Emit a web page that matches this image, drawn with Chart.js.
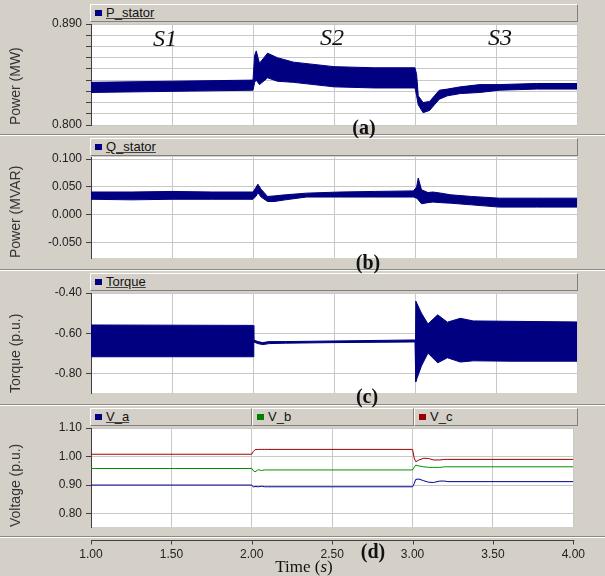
<!DOCTYPE html>
<html lang="en">
<head>
  <meta charset="UTF-8">
  <title>Stator power, torque and voltage</title>
  <script src="https://cdn.jsdelivr.net/npm/chart.js"></script>
  <style>
    body {
      margin: 0;
      background: #d4d0c8;
      font-family: "Liberation Sans", Arial, sans-serif;
    }
    #wrap {
      position: relative;
      width: 605px;
      height: 576px;
      overflow: hidden;
    }
    canvas {
      position: absolute;
      left: 0;
      top: 0;
    }
    .sep {
      position: absolute;
      left: 0;
      width: 605px;
      height: 1px;
      background: #8c8a85;
      border-bottom: 1px solid #fff;
    }
    .hdr {
      position: absolute;
      height: 18px;
      box-sizing: border-box;
      border-top: 1px solid #fff;
      border-left: 1px solid #fff;
      border-right: 1px solid #808080;
      border-bottom: 1px solid #808080;
      font-size: 13px;
      line-height: 16px;
      color: #111;
      padding-left: 4px;
      white-space: nowrap;
    }
    .hdr .sw {
      display: inline-block;
      width: 7px;
      height: 6px;
      margin-right: 4px;
      vertical-align: 1px;
    }
    .hdr u { text-decoration-color: #444; }
    .note {
      position: absolute;
      transform: translate(-50%, -50%);
      line-height: 1;
      color: #111;
      font-family: "Liberation Serif", "Times New Roman", serif;
      white-space: nowrap;
      z-index: 5;
    }
    .stage { font-size: 24px; font-style: italic; }
    .tag { font-size: 20px; font-weight: bold; }
  </style>
</head>
<body>
  <div id="wrap">
    <div class="sep" style="top:134px"></div>
    <div class="sep" style="top:269px"></div>
    <div class="sep" style="top:404px"></div>
    <div class="sep" style="top:536px"></div>

    <div class="hdr" style="left:90px; top:4px; width:488px"><span class="sw" style="background:#000080"></span><u>P_stator</u></div>
    <div class="hdr" style="left:90px; top:138px; width:488px"><span class="sw" style="background:#000080"></span><u>Q_stator</u></div>
    <div class="hdr" style="left:90px; top:273px; width:488px"><span class="sw" style="background:#000080"></span><u>Torque</u></div>
    <div class="hdr" style="left:90px; top:408px; width:162px"><span class="sw" style="background:#000080"></span><u>V_a</u></div>
    <div class="hdr" style="left:252px; top:408px; width:162px"><span class="sw" style="background:#008000"></span>V_b</div>
    <div class="hdr" style="left:414px; top:408px; width:164px"><span class="sw" style="background:#990000"></span>V_c</div>

    <canvas id="cP" width="605" height="576"></canvas>
    <canvas id="cQ" width="605" height="576"></canvas>
    <canvas id="cT" width="605" height="576"></canvas>
    <canvas id="cV" width="605" height="576"></canvas>

    <div class="note stage" style="left:165px; top:38px">S1</div>
    <div class="note stage" style="left:332px; top:37px">S2</div>
    <div class="note stage" style="left:500px; top:37px">S3</div>
    <div class="note tag" style="left:364px; top:127px">(a)</div>
    <div class="note tag" style="left:368px; top:262px">(b)</div>
    <div class="note tag" style="left:367px; top:396px">(c)</div>
    <div class="note tag" style="left:373px; top:551px">(d)</div>
    <div class="note" style="left:304px; top:566px; font-size:17px">Time (<i>s</i>)</div>
  </div>

  <script>
    // P_stator (MW): upper / lower edge of the noisy band
    const tP   = [1.00, 1.50, 2.00, 2.01, 2.02, 2.04, 2.09, 2.15, 2.25, 2.50, 2.75, 3.00, 3.01, 3.02, 3.05, 3.09, 3.12, 3.15, 3.20, 3.28, 3.40, 3.52, 3.75, 4.00];
    const pHi  = [0.838, 0.839, 0.840, 0.862, 0.866, 0.855, 0.864, 0.860, 0.856, 0.852, 0.851, 0.851, 0.845, 0.826, 0.820, 0.821, 0.826, 0.831, 0.832, 0.834, 0.836, 0.836, 0.837, 0.837];
    const pLo  = [0.829, 0.830, 0.831, 0.838, 0.840, 0.836, 0.842, 0.839, 0.838, 0.834, 0.833, 0.833, 0.826, 0.818, 0.811, 0.813, 0.818, 0.823, 0.826, 0.828, 0.829, 0.831, 0.832, 0.832];

    // Q_stator (MVAR)
    const tQ   = [1.00, 1.25, 1.50, 1.75, 2.00, 2.02, 2.03, 2.05, 2.09, 2.13, 2.20, 2.33, 2.54, 2.75, 2.99, 3.01, 3.02, 3.04, 3.08, 3.11, 3.16, 3.22, 3.35, 3.52, 3.75, 4.00];
    const qHi  = [0.041, 0.041, 0.042, 0.041, 0.041, 0.050, 0.055, 0.046, 0.033, 0.034, 0.036, 0.039, 0.041, 0.042, 0.043, 0.050, 0.066, 0.045, 0.040, 0.041, 0.039, 0.036, 0.033, 0.030, 0.030, 0.030];
    const qLo  = [0.028, 0.027, 0.028, 0.028, 0.028, 0.034, 0.040, 0.032, 0.024, 0.024, 0.027, 0.032, 0.032, 0.032, 0.032, 0.030, 0.027, 0.020, 0.022, 0.023, 0.022, 0.021, 0.018, 0.014, 0.014, 0.014];

    // Torque (p.u.)
    const tT   = [1.00, 2.00, 2.005, 2.03, 2.06, 2.10, 2.20, 2.50, 2.99, 3.00, 3.005, 3.04, 3.08, 3.14, 3.20, 3.28, 3.36, 3.60, 4.00];
    const tqHi = [-0.558, -0.560, -0.632, -0.640, -0.645, -0.640, -0.640, -0.637, -0.632, -0.632, -0.440, -0.500, -0.553, -0.508, -0.544, -0.525, -0.538, -0.540, -0.543];
    const tqLo = [-0.715, -0.715, -0.642, -0.650, -0.655, -0.650, -0.648, -0.645, -0.642, -0.642, -0.838, -0.760, -0.697, -0.745, -0.720, -0.741, -0.735, -0.737, -0.737];

    // Phase voltages (p.u.)
    const tV = [1.00, 2.00, 2.01, 2.02, 2.04, 2.06, 2.08, 2.10, 3.00, 3.01, 3.02, 3.04, 3.07, 3.10, 3.13, 3.17, 3.20, 3.22, 4.00];
    const vA = [0.900, 0.900, 0.893, 0.895, 0.894, 0.896, 0.894, 0.894, 0.894, 0.905, 0.920, 0.921, 0.915, 0.910, 0.909, 0.914, 0.914, 0.912, 0.912];
    const vB = [0.958, 0.958, 0.950, 0.946, 0.954, 0.951, 0.953, 0.953, 0.953, 0.962, 0.970, 0.967, 0.964, 0.962, 0.962, 0.962, 0.964, 0.964, 0.964];
    const vC = [1.008, 1.008, 1.018, 1.024, 1.025, 1.025, 1.025, 1.025, 1.025, 0.995, 0.982, 0.988, 0.994, 0.993, 0.988, 0.988, 0.990, 0.990, 0.990];

    const xTicks = [1.0, 1.5, 2.0, 2.5, 3.0, 3.5, 4.0];

    const NAVY = '#000080';
    const GRID = '#c8c8c8';
    const AXIS = '#404040';

    Chart.defaults.font.family = '"Liberation Sans", Arial, sans-serif';
    Chart.defaults.animation = false;

    const pts = (xs, ys) => xs.map((x, i) => ({ x: x, y: ys[i] }));

    // white plotting area behind the traces
    const plotBg = {
      id: 'plotBg',
      beforeDraw(chart) {
        const a = chart.chartArea;
        chart.ctx.save();
        chart.ctx.fillStyle = '#fff';
        chart.ctx.fillRect(a.left, a.top, a.width, a.height);
        chart.ctx.restore();
      }
    };

    // the time axis sits below the last panel's frame
    const timeAxis = {
      id: 'timeAxis',
      afterDraw(chart) {
        const sx = chart.scales.x, ctx = chart.ctx, y0 = 540.5;
        ctx.save();
        ctx.strokeStyle = AXIS;
        ctx.lineWidth = 1;
        ctx.beginPath();
        ctx.moveTo(sx.left, y0);
        ctx.lineTo(sx.right + 1, y0);
        sx.ticks.forEach(t => {
          const px = Math.round(sx.getPixelForValue(t.value)) + 0.5;
          ctx.moveTo(px, y0);
          ctx.lineTo(px, y0 + 4);
        });
        ctx.stroke();
        ctx.restore();
      }
    };

    function band(xs, hi, lo, color) {
      return [
        { data: pts(xs, hi), borderColor: color, borderWidth: 1, pointRadius: 0, fill: false },
        { data: pts(xs, lo), borderColor: color, borderWidth: 1, pointRadius: 0, fill: '-1', backgroundColor: color }
      ];
    }

    function yAxis(title, min, max, step, fmt) {
      return {
        min: min,
        max: max,
        afterFit: s => { s.width = 91; },
        border: { color: AXIS },
        grid: { color: GRID, tickColor: AXIS, tickLength: 5 },
        ticks: { stepSize: step, includeBounds: false, autoSkip: false, padding: 4, color: '#222', font: { size: 12 }, callback: fmt },
        title: { display: true, text: title, align: 'start', color: '#333', font: { size: 14 }, padding: { top: 8, bottom: 0 } }
      };
    }

    function xAxis(showLabels) {
      return {
        type: 'linear',
        min: 1,
        max: 4,
        afterBuildTicks: s => { s.ticks = xTicks.map(v => ({ value: v })); },
        afterFit: s => { s.height = showLabels ? 40 : 0; },
        border: { display: false },
        grid: { color: GRID, drawTicks: false },
        ticks: { display: showLabels, padding: 20, color: '#222', font: { size: 12 }, callback: v => v.toFixed(2) }
      };
    }

    function makeChart(id, datasets, y, top, bottom, last) {
      return new Chart(document.getElementById(id), {
        type: 'line',
        data: { datasets: datasets },
        options: {
          responsive: false,
          layout: { padding: { left: 0, right: 28, top: top, bottom: last ? 576 - bottom - 40 : 576 - bottom } },
          plugins: { legend: { display: false }, tooltip: { enabled: false } },
          elements: { line: { tension: 0 } },
          scales: { x: xAxis(last), y: y }
        },
        plugins: last ? [plotBg, timeAxis] : [plotBg]
      });
    }

    makeChart('cP', band(tP, pHi, pLo, NAVY),
      yAxis('Power (MW)', 0.80, 0.89, 0.01,
        v => (Math.abs(v - 0.89) < 1e-6 || Math.abs(v - 0.80) < 1e-6) ? v.toFixed(3) : ''),
      24, 125, false);

    makeChart('cQ', band(tQ, qHi, qLo, NAVY),
      yAxis('Power (MVAR)', -0.077, 0.1036, 0.05, v => v.toFixed(3)),
      157, 258, false);

    makeChart('cT', band(tT, tqHi, tqLo, NAVY),
      yAxis('Torque (p.u.)', -0.894, -0.40, 0.2, v => v.toFixed(2)),
      293, 393, false);

    makeChart('cV', [
        { data: pts(tV, vA), borderColor: '#000090', borderWidth: 1, pointRadius: 0 },
        { data: pts(tV, vB), borderColor: '#009000', borderWidth: 1, pointRadius: 0 },
        { data: pts(tV, vC), borderColor: '#a00000', borderWidth: 1, pointRadius: 0 }
      ],
      yAxis('Voltage (p.u.)', 0.753, 1.10, 0.1, v => v.toFixed(2)),
      428, 527, true);
  </script>
</body>
</html>
